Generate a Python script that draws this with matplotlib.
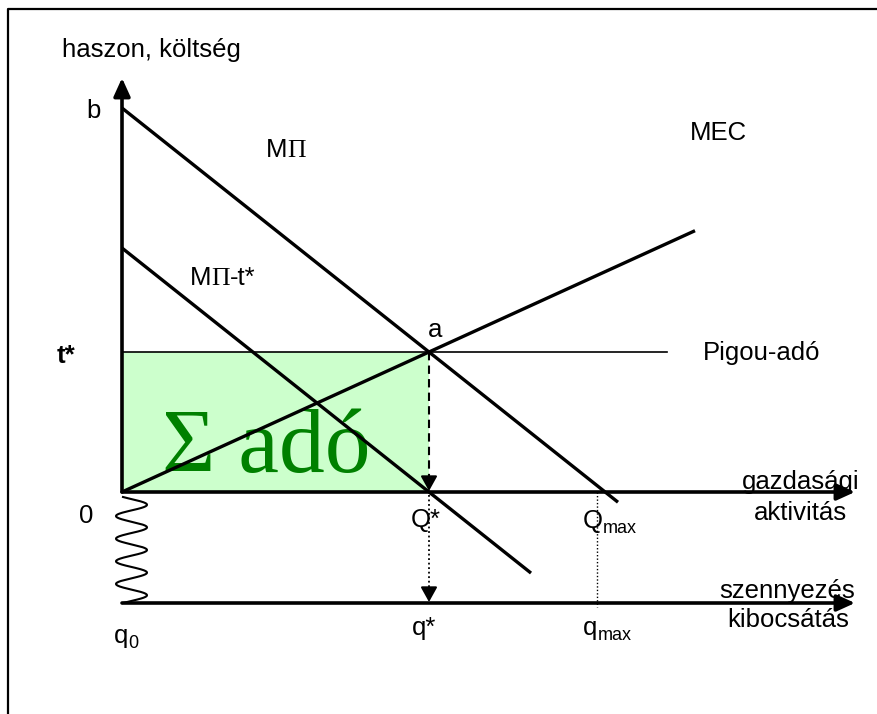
import numpy as np
import matplotlib
matplotlib.use("Agg")
import matplotlib.pyplot as plt

# ---- model values (diagram units) ----
b_val = 38.4          # intercept of MΠ
t_star = 14.0         # Pigou tax level
q_star = 30.7         # optimal activity Q*
q_max = 47.5          # Qmax marker
mp_end = 49.6         # end of MΠ line
mpt_end = 40.9        # end of MΠ-t* line
mec_end = 57.3        # end of MEC line
pigou_end = 54.5      # end of Pigou-adó line
x_axis_end = 73.3     # tip of horizontal axes
y_axis_top = 41.4     # tip of vertical axis
emis_axis = -11.1     # level of emission axis

slope_mp = (b_val - t_star) / q_star
slope_mec = t_star / q_star

mp_x = np.array([0.0, mp_end])
mp_y = b_val - slope_mp * mp_x
mpt_x = np.array([0.0, mpt_end])
mpt_y = (b_val - t_star) - slope_mp * mpt_x
mec_x = np.array([0.0, mec_end])
mec_y = slope_mec * mec_x

SANS = "Liberation Sans"
SERIF = "Liberation Serif"
FS = 18.5

fig = plt.figure(figsize=(8.77, 7.14), dpi=100)
ax = fig.add_axes([0, 0, 1, 1])
ax.set_xlim(-12.2, 75.5)
ax.set_ylim(-22.2, 49.2)
ax.axis("off")

# frame (left and top edges visible)
ax.plot([-11.4, -11.4, 80], [-30, 48.35, 48.35], color="black", lw=1.6,
        solid_capstyle="butt", zorder=1)

# tax revenue rectangle
ax.fill_between([0, q_star], 0, t_star, color="#ccffcc", lw=0, zorder=1)
ax.text(4.0, 2.0, "Σ adó", fontsize=66, family=SERIF, color="#008000",
        ha="left", va="baseline", zorder=2)

# Pigou line
ax.plot([0, pigou_end], [t_star, t_star], color="black", lw=1.2, zorder=3)

# curves
lw = 2.4
ax.plot(mp_x, mp_y, color="black", lw=lw, solid_capstyle="butt", zorder=3)
ax.plot(mpt_x, mpt_y, color="black", lw=lw, solid_capstyle="butt", zorder=3)
ax.plot(mec_x, mec_y, color="black", lw=lw, solid_capstyle="butt", zorder=3)

# axes with arrows
ah = dict(arrowstyle="-|>,head_length=11,head_width=5", mutation_scale=1,
          color="black", lw=2.6, shrinkA=0, shrinkB=0)
ax.annotate("", xy=(0, y_axis_top), xytext=(0, 0), arrowprops=ah, zorder=4)
ax.annotate("", xy=(x_axis_end, 0), xytext=(0, 0), arrowprops=ah, zorder=4)
ax.annotate("", xy=(x_axis_end, emis_axis), xytext=(0, emis_axis),
            arrowprops=ah, zorder=4)

# squiggle linking the two horizontal axes
t = np.linspace(0, 1, 400)
phase0 = -0.58
total = 9 * np.pi + 1.16
sq_y = -0.5 + (emis_axis + 0.5) * t
sq_x = 0.95 + 1.55 * np.sin(phase0 + total * t)
ax.plot(sq_x, sq_y, color="black", lw=1.5, zorder=3)

# dashed arrow a -> Q*
ah2 = dict(arrowstyle="-|>,head_length=9,head_width=5", mutation_scale=1,
           color="black", lw=1.5, shrinkA=0, shrinkB=0)
ax.plot([q_star, q_star], [t_star, 1.0], color="black", lw=1.5,
        dashes=(4, 2.5), zorder=3)
ax.annotate("", xy=(q_star, 0.1), xytext=(q_star, 1.3), arrowprops=ah2, zorder=4)

# dotted arrow Q* -> q*
ax.plot([q_star, q_star], [-0.3, emis_axis + 1.0], color="black", lw=1.3,
        dashes=(1, 1.5), zorder=3)
ax.annotate("", xy=(q_star, emis_axis + 0.1), xytext=(q_star, emis_axis + 1.3),
            arrowprops=ah2, zorder=4)

# Qmax dotted line
ax.plot([q_max, q_max], [0, emis_axis - 0.4], color="black", lw=1.0,
        dashes=(1, 1.5), zorder=3)

# ---- labels ----
def txt(x, y, s, **kw):
    kw.setdefault("fontsize", FS)
    kw.setdefault("family", SANS)
    return ax.text(x, y, s, ha=kw.pop("ha", "left"), va=kw.pop("va", "baseline"),
                   zorder=5, **kw)

def after(artist, s, fontsize=FS, family=SANS, dy=0, **kw):
    return ax.annotate(s, xy=(1, 0), xycoords=artist, xytext=(0, dy),
                       textcoords="offset points", ha="left", va="bottom",
                       fontsize=fontsize, family=family, zorder=5, **kw)

txt(-6.0, 43.5, "haszon, költség")
txt(-3.6, 37.4, "b")
m1 = txt(14.4, 33.5, "M")
after(m1, "Π", family=SERIF)
m2 = txt(6.8, 20.7, "M")
p2 = after(m2, "Π", family=SERIF)
after(p2, "-t*")
txt(56.8, 35.2, "MEC")
txt(58.1, 13.2, "Pigou-adó")
txt(30.6, 15.5, "a")
txt(-6.5, 12.9, "t*", weight="bold")
txt(-4.3, -3.1, "0")
txt(28.9, -3.5, "Q*")
qm = txt(46.1, -3.6, "Q")
after(qm, "max", fontsize=13, dy=-3)
txt(67.9, 0.3, "gazdasági", ha="center")
txt(67.8, -2.8, "aktivitás", ha="center")
txt(66.5, -10.6, "szennyezés", ha="center")
txt(66.6, -13.5, "kibocsátás", ha="center")
q0 = txt(-0.8, -15.1, "q")
after(q0, "0", fontsize=13, dy=-3)
txt(29.0, -14.3, "q*")
qx = txt(46.1, -14.3, "q")
after(qx, "max", fontsize=13, dy=-3)

fig.savefig("out.png", dpi=100)
